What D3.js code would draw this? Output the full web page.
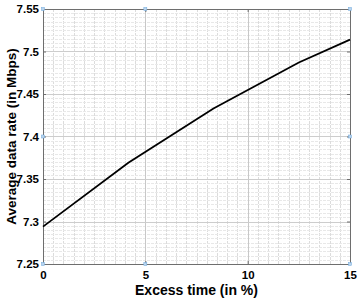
<!DOCTYPE html>
<html>
<head>
<meta charset="utf-8">
<script src="https://cdn.jsdelivr.net/npm/d3@7"></script>
<style>
  body { margin: 0; background: #fff; }
  svg text { font-family: "Liberation Sans", Arial, sans-serif; font-weight: bold; fill: #000; }
</style>
</head>
<body>
<div id="vis"></div>
<script>
// data
var excessTime = [0, 4.17, 8.33, 12.5, 15];
var dataRate = [7.294, 7.369, 7.433, 7.487, 7.514];
var xTicks = [0, 5, 10, 15];
var yTicks = [7.25, 7.3, 7.35, 7.4, 7.45, 7.5, 7.55];
var xLabel = 'Excess time (in %)';
var yLabel = 'Average data rate (in Mbps)';

var W = 359, H = 299;
var margin = {top: 9, right: 9, bottom: 35, left: 43};

var x = d3.scaleLinear().domain([0, 15]).range([margin.left, W - margin.right]);
var y = d3.scaleLinear().domain([7.25, 7.55]).range([H - margin.bottom, margin.top]);

var svg = d3.select('#vis').append('svg')
    .attr('width', W)
    .attr('height', H);

var x0 = x.range()[0], x1 = x.range()[1];
var y0 = y.range()[0], y1 = y.range()[1];

// minor grid (10 per major step)
var xMinor = d3.range(0, 15.001, 0.5);
var yMinor = d3.range(0, 61).map(function(i) { return 7.25 + i * 0.005; });

var grid = svg.append('g');
grid.selectAll('line.xm').data(xMinor).enter().append('line')
    .attr('x1', function(d) { return Math.round(x(d)) + 0.5; })
    .attr('x2', function(d) { return Math.round(x(d)) + 0.5; })
    .attr('y1', y1).attr('y2', y0)
    .attr('stroke', '#dcdcdc')
    .attr('stroke-dasharray', '3,1');
grid.selectAll('line.ym').data(yMinor).enter().append('line')
    .attr('y1', function(d) { return Math.round(y(d)) + 0.5; })
    .attr('y2', function(d) { return Math.round(y(d)) + 0.5; })
    .attr('x1', x0).attr('x2', x1)
    .attr('stroke', '#e8e8e8')
    .attr('stroke-dasharray', '3,1');

// major grid
grid.selectAll('line.xM').data(xTicks).enter().append('line')
    .attr('x1', function(d) { return Math.round(x(d)) + 0.5; })
    .attr('x2', function(d) { return Math.round(x(d)) + 0.5; })
    .attr('y1', y1).attr('y2', y0)
    .attr('stroke', '#c8c8c8');
grid.selectAll('line.yM').data(yTicks).enter().append('line')
    .attr('y1', function(d) { return Math.round(y(d)) + 0.5; })
    .attr('y2', function(d) { return Math.round(y(d)) + 0.5; })
    .attr('x1', x0).attr('x2', x1)
    .attr('stroke', '#cdcdcd');

// axes, ticks pointing in
var axisColor = '#6e6e6e';
var fmtY = function(d) { return d3.format('.2f')(d).replace(/0$/, ''); };

var gx = svg.append('g')
    .attr('transform', 'translate(0,' + y0 + ')')
    .call(d3.axisBottom(x).tickValues(xTicks).tickSize(-3).tickPadding(7).tickSizeOuter(0));
var gxTop = svg.append('g')
    .attr('transform', 'translate(0,' + y1 + ')')
    .call(d3.axisTop(x).tickValues(xTicks).tickSize(-3).tickFormat('').tickSizeOuter(0));
var gy = svg.append('g')
    .attr('transform', 'translate(' + x0 + ',0)')
    .call(d3.axisLeft(y).tickValues(yTicks).tickSize(-3).tickPadding(4).tickFormat(fmtY).tickSizeOuter(0));
var gyRight = svg.append('g')
    .attr('transform', 'translate(' + x1 + ',0)')
    .call(d3.axisRight(y).tickValues(yTicks).tickSize(-3).tickFormat('').tickSizeOuter(0));

[gx, gxTop, gy, gyRight].forEach(function(g) {
    g.selectAll('path').attr('stroke', axisColor);
    g.selectAll('line').attr('stroke', axisColor);
    g.selectAll('text').style('font-size', '11.5px').attr('fill', '#000');
});

// data line
var line = d3.line()
    .x(function(d, i) { return x(excessTime[i]); })
    .y(function(d) { return y(d); });

svg.append('path')
    .datum(dataRate)
    .attr('d', line)
    .attr('fill', 'none')
    .attr('stroke', '#000')
    .attr('stroke-width', 1.8);

// small selection handles seen on the frame
var handles = [[0, 7.25], [0, 7.55], [15, 7.25], [15, 7.55], [0, 7.4], [15, 7.4], [5, 7.55], [5, 7.25]];
svg.selectAll('rect.h').data(handles).enter().append('rect')
    .attr('x', function(d) { return x(d[0]) - 1.5; })
    .attr('y', function(d) { return y(d[1]) - 1.5; })
    .attr('width', 3).attr('height', 3)
    .attr('fill', '#b8d4ee')
    .attr('stroke', '#6fa8dc')
    .attr('stroke-width', 0.5);

// axis labels
svg.append('text')
    .attr('x', (x0 + x1) / 2)
    .attr('y', 295)
    .attr('text-anchor', 'middle')
    .style('font-size', '14px')
    .text(xLabel);

svg.append('text')
    .attr('transform', 'translate(16,' + ((y0 + y1) / 2) + ') rotate(-90)')
    .attr('text-anchor', 'middle')
    .style('font-size', '13.5px')
    .text(yLabel);
</script>
</body>
</html>
